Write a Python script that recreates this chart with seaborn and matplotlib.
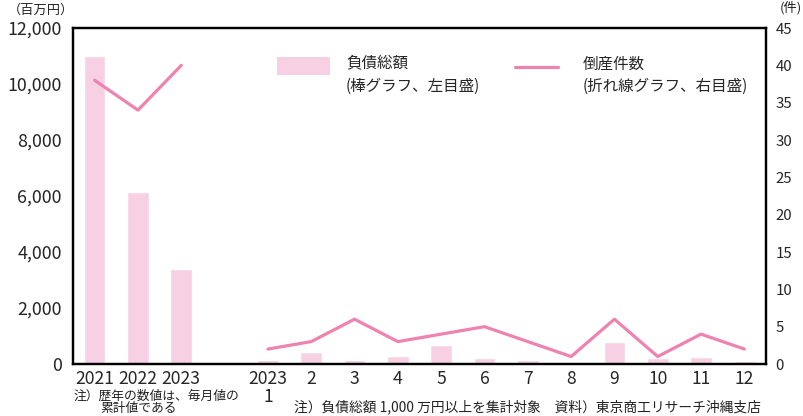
import pandas as pd
import matplotlib
matplotlib.use('Agg')
import matplotlib.pyplot as plt
import seaborn as sns
from matplotlib.patches import Rectangle
from matplotlib.lines import Line2D

sns.set_style('white')
plt.rcParams['font.family'] = ['Noto Sans CJK JP', 'DejaVu Sans']

# data
labels = ['2021', '2022', '2023', '', '2023\n1', '2', '3', '4', '5', '6', '7', '8', '9', '10', '11', '12']
year_pos = [0, 1, 2]
year_debt = [11000, 6150, 3400]
year_count = [38, 34, 40]
month_pos = [4, 5, 6, 7, 8, 9, 10, 11, 12, 13, 14, 15]
month_debt = [150, 430, 150, 290, 690, 210, 150, 0, 790, 210, 250, 110]
month_count = [2, 3, 6, 3, 4, 5, 3, 1, 6, 1, 4, 2]

bar_color = '#F7D1E3'
line_color = '#EE83B0'

bars = pd.DataFrame({'pos': year_pos + month_pos, 'debt': year_debt + month_debt})

fig = plt.figure(figsize=(8.04, 4.16), dpi=100)
ax = fig.add_axes([73 / 804, 1 - 364 / 416, (766 - 73) / 804, (364 - 28) / 416])

sns.barplot(data=bars, x='pos', y='debt', native_scale=True, width=0.5,
            color=bar_color, saturation=1, ax=ax)
ax.set_xlim(-0.5, 15.5)
ax.set_ylim(0, 12000)
ax.set_yticks(range(0, 12001, 2000))
ax.set_yticklabels([f'{v:,}' for v in range(0, 12001, 2000)], fontsize=12.8)
ax.set_xticks(range(16))
ax.set_xticklabels(labels, fontsize=12.6, linespacing=1.05)
ax.set_xlabel('')
ax.set_ylabel('')
ax.tick_params(axis='y', length=0, pad=8)
ax.tick_params(axis='x', length=0, pad=4)

ax2 = ax.twinx()
sns.lineplot(x=year_pos, y=year_count, color=line_color, lw=2.3, ax=ax2)
sns.lineplot(x=month_pos, y=month_count, color=line_color, lw=2.3, ax=ax2)
ax2.set_ylim(0, 45)
ax2.set_yticks(range(0, 46, 5))
ax2.tick_params(length=0, labelsize=10.8, pad=7)
ax2.set_ylabel('')

for a in (ax, ax2):
    for s in a.spines.values():
        s.set_visible(True)
        s.set_color('black')
        s.set_linewidth(1.6)

fig.text(8 / 804, 1 - 10 / 416, '（百万円）', fontsize=9.5, va='center', ha='left')
fig.text(802 / 804, 1 - 8 / 416, '(件)', fontsize=9.5, va='center', ha='right')

# legend
fig.patches.append(Rectangle((277 / 804, 1 - 75 / 416), 53 / 804, 18 / 416,
                             transform=fig.transFigure, facecolor=bar_color, edgecolor='none'))
fig.lines.append(Line2D([515 / 804, 558 / 804], [1 - 67 / 416, 1 - 67 / 416],
                        transform=fig.transFigure, color=line_color, lw=2.3))
fig.text(346 / 804, 1 - 64 / 416, '負債総額', fontsize=11.2, va='center', ha='left')
fig.text(346 / 804, 1 - 86 / 416, '(棒グラフ、左目盛)', fontsize=11.2, va='center', ha='left')
fig.text(583 / 804, 1 - 64 / 416, '倒産件数', fontsize=11.2, va='center', ha='left')
fig.text(583 / 804, 1 - 86 / 416, '(折れ線グラフ、右目盛)', fontsize=11.2, va='center', ha='left')

fig.text(74 / 804, 1 - 396 / 416, '注）歴年の数値は、毎月値の', fontsize=9.2,
         va='center', ha='left', color='#222222')
fig.text(100 / 804, 1 - 408.5 / 416, '累計値である', fontsize=9.2,
         va='center', ha='left', color='#222222')
fig.text(294 / 804, 1 - 407 / 416,
         '注）負債総額 1,000 万円以上を集計対象　資料）東京商工リサーチ沖縄支店',
         fontsize=9.9, va='center', ha='left', color='#222222')

fig.savefig('out.png', dpi=100)
